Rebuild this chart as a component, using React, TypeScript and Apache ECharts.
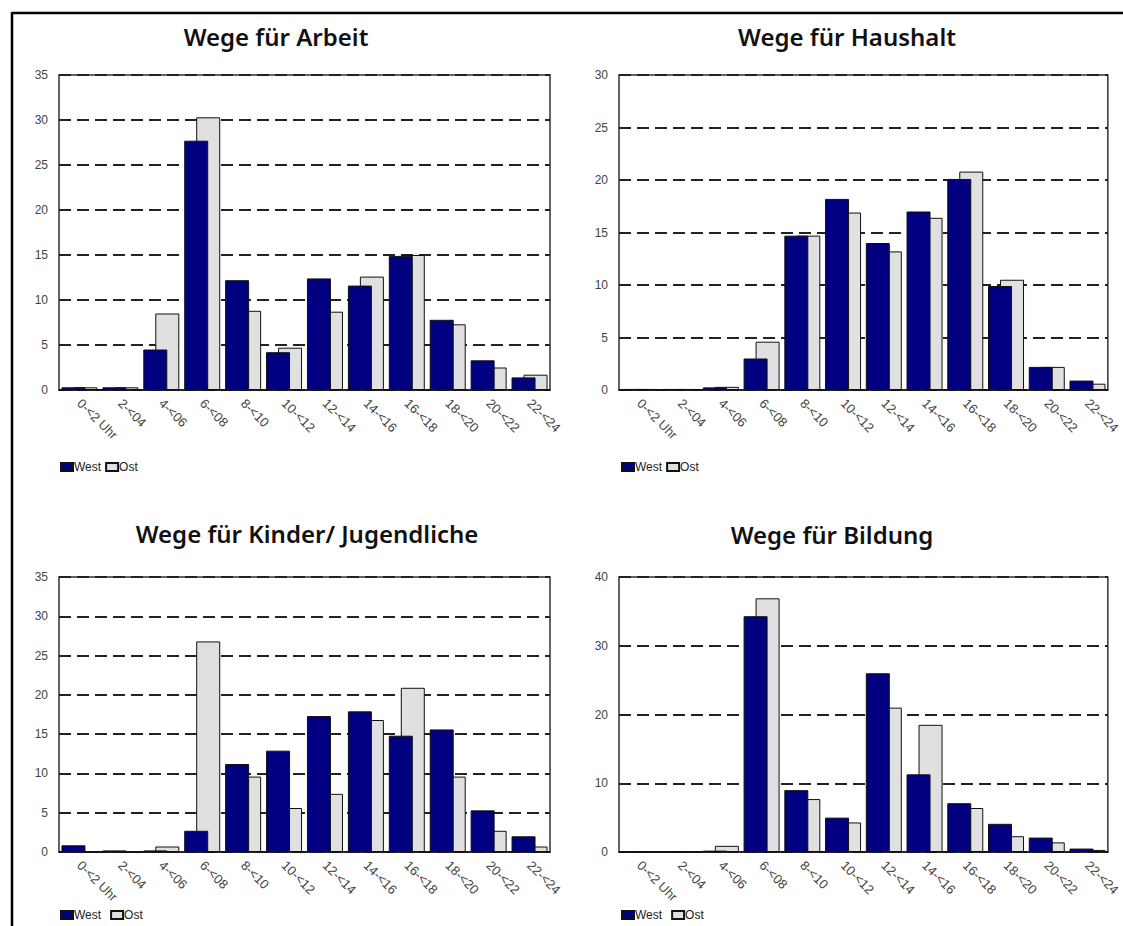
import React, { useEffect, useRef } from "react";
import * as echarts from "echarts";

const categories = ["0-<2 Uhr", "2-<04", "4-<06", "6-<08", "8-<10", "10-<12", "12-<14", "14-<16", "16-<18", "18-<20", "20-<22", "22-<24"];

const titles = ["Wege für Arbeit", "Wege für Haushalt", "Wege für Kinder/ Jugendliche", "Wege für Bildung"];
const seriesNames = ["West", "Ost"];

const arbeitWest = [0.3, 0.3, 4.5, 27.7, 12.2, 4.2, 12.4, 11.6, 14.9, 7.8, 3.3, 1.4];
const arbeitOst = [0.3, 0.3, 8.5, 30.3, 8.8, 4.7, 8.7, 12.6, 15.0, 7.3, 2.5, 1.7];
const haushaltWest = [0.1, 0.1, 0.25, 3.0, 14.7, 18.2, 14.0, 17.0, 20.1, 9.9, 2.2, 0.9];
const haushaltOst = [0.1, 0.1, 0.3, 4.6, 14.7, 16.9, 13.2, 16.4, 20.8, 10.5, 2.2, 0.6];
const kinderWest = [0.85, 0.2, 0.2, 2.7, 11.2, 12.9, 17.3, 17.9, 14.8, 15.6, 5.3, 2.0];
const kinderOst = [0, 0, 0.7, 26.8, 9.6, 5.6, 7.4, 16.8, 20.9, 9.6, 2.7, 0.7];
const bildungWest = [0, 0, 0.2, 34.3, 9.0, 5.0, 26.0, 11.3, 7.1, 4.1, 2.1, 0.5];
const bildungOst = [0, 0, 0.9, 36.9, 7.7, 4.3, 21.0, 18.5, 6.4, 2.3, 1.4, 0.3];

const yMax = [35, 30, 35, 40];
const yInterval = [5, 5, 5, 10];

export default function App() {
  const ref = useRef<HTMLDivElement>(null);

  useEffect(() => {
    document.body.style.margin = "0";
    if (!ref.current) return;
    const chart = echarts.init(ref.current, null, { renderer: "svg" });

    const grids = [
      { left: 59, top: 75, width: 491, height: 315 },
      { left: 619, top: 75, width: 491, height: 315 },
      { left: 59, top: 577, width: 491, height: 275 },
      { left: 619, top: 577, width: 491, height: 275 },
    ];
    const westData = [arbeitWest, haushaltWest, kinderWest, bildungWest];
    const ostData = [arbeitOst, haushaltOst, kinderOst, bildungOst];
    const titlePos = [
      [276, 36],
      [847, 36],
      [307, 533],
      [832, 534],
    ];
    const legendPos = [
      [60, 461, 4],
      [621, 461, 4],
      [60, 909, 9],
      [621, 909, 9],
    ];

    const font = "Liberation Sans, Arial, sans-serif";

    const option: any = {
      animation: false,
      backgroundColor: "#fff",
      grid: grids.map((g) => ({
        ...g,
        show: true,
        borderColor: "#333",
        borderWidth: 1.5,
        backgroundColor: "transparent",
      })),
      xAxis: grids.map((_, i) => ({
        type: "category",
        gridIndex: i,
        data: categories,
        axisLine: { show: true, lineStyle: { color: "#111", width: 1.5 } },
        axisTick: { show: false },
        axisLabel: {
          interval: 0,
          rotate: -45,
          margin: 11,
          fontSize: 13,
          fontFamily: font,
          color: "#444",
        },
        splitLine: { show: false },
      })),
      yAxis: grids.map((_, i) => ({
        type: "value",
        gridIndex: i,
        min: 0,
        max: yMax[i],
        interval: yInterval[i],
        axisLine: { show: false },
        axisTick: { show: false },
        axisLabel: {
          margin: 11,
          fontSize: 12,
          fontFamily: font,
          color: "#444",
        },
        splitLine: {
          show: true,
          lineStyle: { color: "#222", width: 1.8, type: [12, 6] },
        },
      })),
      legend: legendPos.map((p) => ({
        data: seriesNames,
        left: p[0],
        top: p[1],
        orient: "horizontal",
        icon: "rect",
        itemWidth: 12,
        itemHeight: 8,
        itemGap: p[2],
        padding: 0,
        textStyle: { fontSize: 12, fontFamily: font, color: "#222", padding: [0, 0, 0, -4] },
      })),
      series: [] as any[],
      graphic: [
        { type: "line", shape: { x1: 12, y1: 13, x2: 1123, y2: 13 }, style: { stroke: "#000", lineWidth: 2.5 } },
        { type: "line", shape: { x1: 12, y1: 12, x2: 12, y2: 926 }, style: { stroke: "#000", lineWidth: 2.5 } },
        ...titles.map((t, i) => ({
          type: "text",
          x: titlePos[i][0],
          y: titlePos[i][1],
          style: {
            text: t,
            fontSize: 24,
            fontWeight: 600,
            fontFamily: "Noto Sans, Open Sans, sans-serif",
            fill: "#111",
            align: "center",
            verticalAlign: "middle",
          },
        })),
      ],
    };

    for (let i = 0; i < 4; i++) {
      option.series.push({
        name: "West",
        type: "bar",
        xAxisIndex: i,
        yAxisIndex: i,
        data: westData[i],
        barWidth: 24,
        barGap: "-50%",
        z: 3,
        itemStyle: { color: "#000080", borderColor: "#111", borderWidth: 1 },
      });
      option.series.push({
        name: "Ost",
        type: "bar",
        xAxisIndex: i,
        yAxisIndex: i,
        data: ostData[i],
        barWidth: 24,
        barGap: "-50%",
        z: 2,
        itemStyle: { color: "#e0e0e0", borderColor: "#111", borderWidth: 1 },
      });
    }

    chart.setOption(option);
    return () => chart.dispose();
  }, []);

  return <div ref={ref} style={{ width: 1123, height: 926 }} />;
}
